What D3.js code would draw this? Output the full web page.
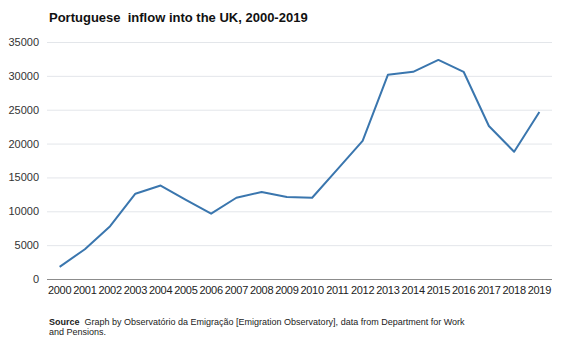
<!DOCTYPE html>
<html>
<head>
<meta charset="utf-8">
<script src="https://cdn.jsdelivr.net/npm/d3@7"></script>
<style>
  body { margin: 0; background: #fff; }
  text { font-family: "Liberation Sans", Arial, sans-serif; white-space: pre; }
</style>
</head>
<body>
<script>
var years = ["2000", "2001", "2002", "2003", "2004", "2005", "2006", "2007", "2008", "2009",
    "2010", "2011", "2012", "2013", "2014", "2015", "2016", "2017", "2018", "2019"];
var inflow = [1800, 4400, 7800, 12600, 13800, 11700, 9650, 12000, 12850, 12100,
    12000, 16200, 20400, 30150, 30600, 32350, 30600, 22600, 18800, 24650];
var yTicks = [0, 5000, 10000, 15000, 20000, 25000, 30000, 35000];

var width = 567,
    height = 340;

var svg = d3.select("body").append("svg")
    .attr("width", width)
    .attr("height", height);

var x = d3.scaleBand()
    .domain(years)
    .range([47, 552]);

var y = d3.scaleLinear()
    .domain([0, 35000])
    .range([279, 42]);

// gridlines
svg.selectAll("line.grid")
    .data(yTicks.slice(1))
    .enter().append("line")
    .attr("class", "grid")
    .attr("x1", 47)
    .attr("x2", 552)
    .attr("y1", function(d) { return y(d) + 0.5; })
    .attr("y2", function(d) { return y(d) + 0.5; })
    .style("stroke", "#e3e6ea")
    .style("stroke-width", 1);

// y labels
svg.selectAll("text.ylab")
    .data(yTicks)
    .enter().append("text")
    .attr("class", "ylab")
    .attr("x", 39)
    .attr("y", function(d) { return y(d) + 4; })
    .attr("text-anchor", "end")
    .attr("font-size", "11px")
    .attr("fill", "#333")
    .text(function(d) { return d; });

// baseline
svg.append("line")
    .attr("x1", 47)
    .attr("x2", 552)
    .attr("y1", y(0) + 0.5)
    .attr("y2", y(0) + 0.5)
    .style("stroke", "#8c8c8c")
    .style("stroke-width", 1);

// x labels
svg.selectAll("text.xlab")
    .data(years)
    .enter().append("text")
    .attr("class", "xlab")
    .attr("x", function(d) { return x(d) + x.bandwidth() / 2; })
    .attr("y", 294)
    .attr("text-anchor", "middle")
    .attr("font-size", "11px")
    .attr("letter-spacing", "-0.3px")
    .attr("fill", "#222")
    .text(function(d) { return d; });

// the line
var line = d3.line()
    .x(function(d, i) { return x(years[i]) + x.bandwidth() / 2; })
    .y(function(d) { return y(d); });

svg.append("path")
    .datum(inflow)
    .attr("d", line)
    .style("fill", "none")
    .style("stroke", "#3a76ae")
    .style("stroke-width", 2)
    .style("stroke-linejoin", "round");

// title
svg.append("text")
    .attr("x", 49)
    .attr("y", 22)
    .attr("font-size", "13px")
    .attr("font-weight", "bold")
    .attr("fill", "#111")
    .text("Portuguese  inflow into the UK, 2000-2019");

// source note
var note = svg.append("text")
    .attr("x", 49)
    .attr("y", 325)
    .attr("font-size", "9px")
    .attr("fill", "#222");
note.append("tspan")
    .attr("font-weight", "bold")
    .text("Source");
note.append("tspan")
    .text("  Graph by Observatório da Emigração [Emigration Observatory], data from Department for Work");
svg.append("text")
    .attr("x", 49)
    .attr("y", 335)
    .attr("font-size", "9px")
    .attr("fill", "#222")
    .text("and Pensions.");
</script>
</body>
</html>
